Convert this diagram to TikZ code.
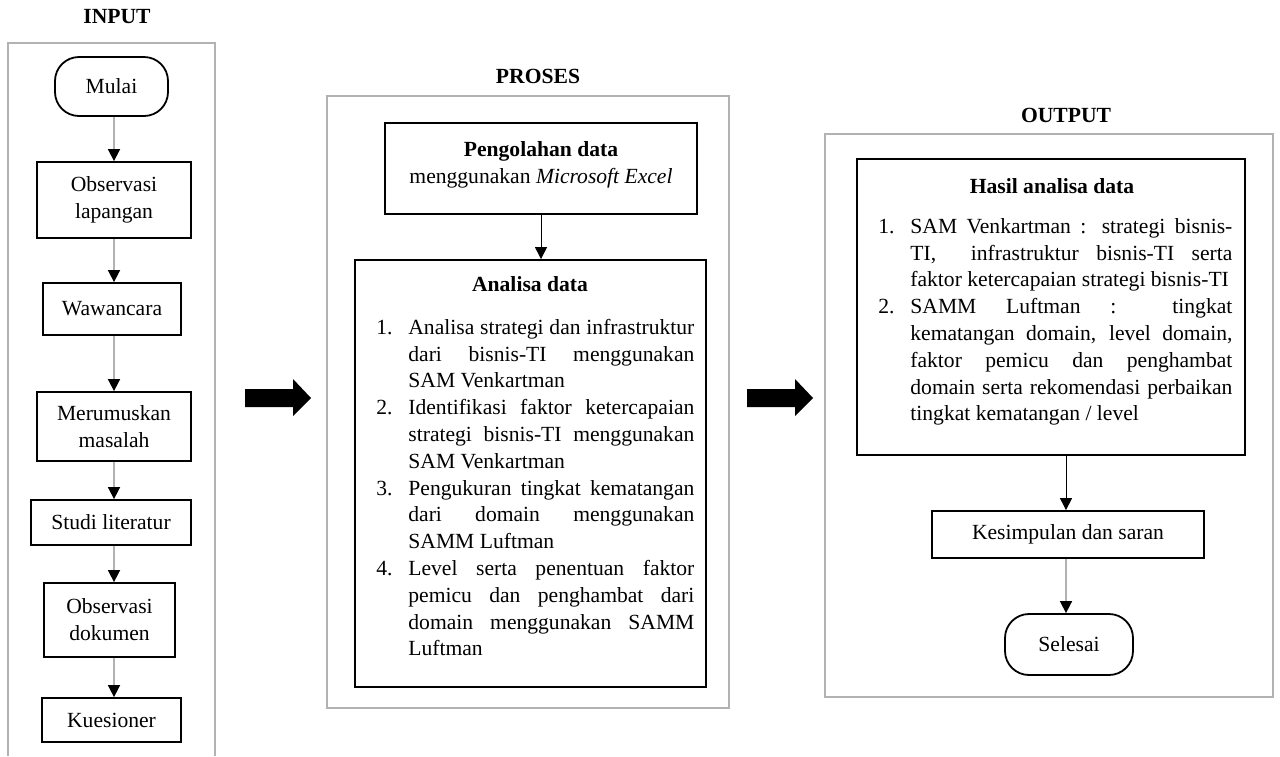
\documentclass[tikz,border=0pt]{standalone}
\usepackage{fontspec}
\setmainfont{Liberation Serif}
\usepackage{enumitem}
\usetikzlibrary{arrows.meta,positioning}
\hyphenpenalty=10000

\begin{document}
\begin{tikzpicture}[x=0.5pt,y=-0.5pt,
  every node/.style={font=\fontsize{10.8}{13.4}\selectfont},
  box/.style={draw,line width=0.9pt,inner sep=0pt,align=center},
  term/.style={box,rounded corners=12pt},
  frame/.style={draw=gray!60,line width=0.8pt,inner sep=0pt},
  arr/.style={draw=gray!60,line width=0.8pt,-{Triangle[color=black,length=6pt,width=6pt]}},
  arrb/.style={arr,draw=black,line width=0.5pt},
  head/.style={font=\fontsize{10.8}{13.4}\selectfont\bfseries},
  lst/.style={inner sep=0pt,anchor=north west,align=justify}]
\useasboundingbox (0,0) rectangle (1280,756);

% Input
\node[head] at (117,17) {INPUT};
\draw[frame] (8,756) -- (8,43) -- (215,43) -- (215,756);
\node[term,minimum width=56.5pt,minimum height=29.5pt] (mulai) at (111.5,86.5) {Mulai};
\node[box,minimum width=77pt,minimum height=38pt] (obslap) at (114,200) {Observasi\\lapangan};
\node[box,minimum width=69pt,minimum height=26pt] (wawan) at (112,309) {Wawancara};
\node[box,minimum width=77pt,minimum height=34.5pt] (rumus) at (114,426.5) {Merumuskan\\masalah};
\node[box,minimum width=80pt,minimum height=22.5pt] (studi) at (111,522.5) {Studi literatur};
\node[box,minimum width=65.5pt,minimum height=37pt] (obsdok) at (109.5,620) {Observasi\\dokumen};
\node[box,minimum width=69.5pt,minimum height=22pt] (kues) at (111.5,720) {Kuesioner};
\foreach \a/\b in {mulai/obslap,obslap/wawan,wawan/rumus,rumus/studi,studi/obsdok,obsdok/kues}
  \draw[arr] (\a.south -| 114,0) -- (\b.north -| 114,0);

% Big arrows
\foreach \x in {245,747}
  \fill[shift={(\x,0)}] (0,389) -- (48,389) -- (48,379) -- (66,398) -- (48,416) -- (48,407) -- (0,407) -- cycle;

% Proses
\node[frame,minimum width=201pt,minimum height=306pt] (proses) at (528,402) {};
\node[head] at (538,76) {PROSES};
\node[box,minimum width=156pt,minimum height=45.5pt] (olah) at (541,168.5) {};
\node[align=center,inner sep=0pt] (olahtxt) at (541,164.5) {\textbf{Pengolahan data}\\menggunakan \textit{Microsoft Excel}};
\node[box,minimum width=175.5pt,minimum height=213.5pt] (analisa) at (530.5,473.5) {};
\node[head] (analisatitle) at (530,284) {Analisa data};
\node[lst,text width=159pt] (analisalist) at (376,307) {%
\begin{enumerate}[nosep,leftmargin=16pt,labelsep=6pt,labelwidth=10pt,align=left]
\item Analisa strategi dan infrastruktur\linebreak dari bisnis-TI menggunakan\linebreak SAM Venkartman
\item Identifikasi faktor ketercapaian\linebreak strategi bisnis-TI menggunakan\linebreak SAM Venkartman
\item Pengukuran tingkat kematangan\linebreak dari domain menggunakan\linebreak SAMM Luftman
\item Level serta penentuan faktor\linebreak pemicu dan penghambat dari\linebreak domain menggunakan SAMM\linebreak Luftman
\end{enumerate}};
\draw[arrb] (olah.south) -- (olah.south |- analisa.north);

% Output
\node[frame,minimum width=224pt,minimum height=281.5pt] (output) at (1049,415.5) {};
\node[head] at (1066,115) {OUTPUT};
\node[box,minimum width=194pt,minimum height=148pt] (hasil) at (1051,307) {};
\node[head] (hasiltitle) at (1052,186) {Hasil analisa data};
\node[lst,text width=177pt] (hasillist) at (878,206) {%
\begin{enumerate}[nosep,leftmargin=16pt,labelsep=6pt,labelwidth=10pt,align=left]
\item SAM Venkartman : strategi bisnis-\linebreak TI,\ \ infrastruktur bisnis-TI serta\linebreak faktor ketercapaian strategi bisnis-TI
\item SAMM Luftman : tingkat\linebreak kematangan domain, level domain,\linebreak faktor pemicu dan penghambat\linebreak domain serta rekomendasi perbaikan\linebreak tingkat kematangan / level
\end{enumerate}};
\node[box,minimum width=136pt,minimum height=23.5pt] (simpul) at (1068,534.5) {Kesimpulan dan saran};
\node[term,minimum width=64pt,minimum height=30.5pt] (selesai) at (1069,644.5) {Selesai};
\draw[arrb] (hasil.south -| 1066,0) -- (simpul.north -| 1066,0);
\draw[arr] (simpul.south -| 1066,0) -- (selesai.north -| 1066,0);
\end{tikzpicture}
\end{document}
